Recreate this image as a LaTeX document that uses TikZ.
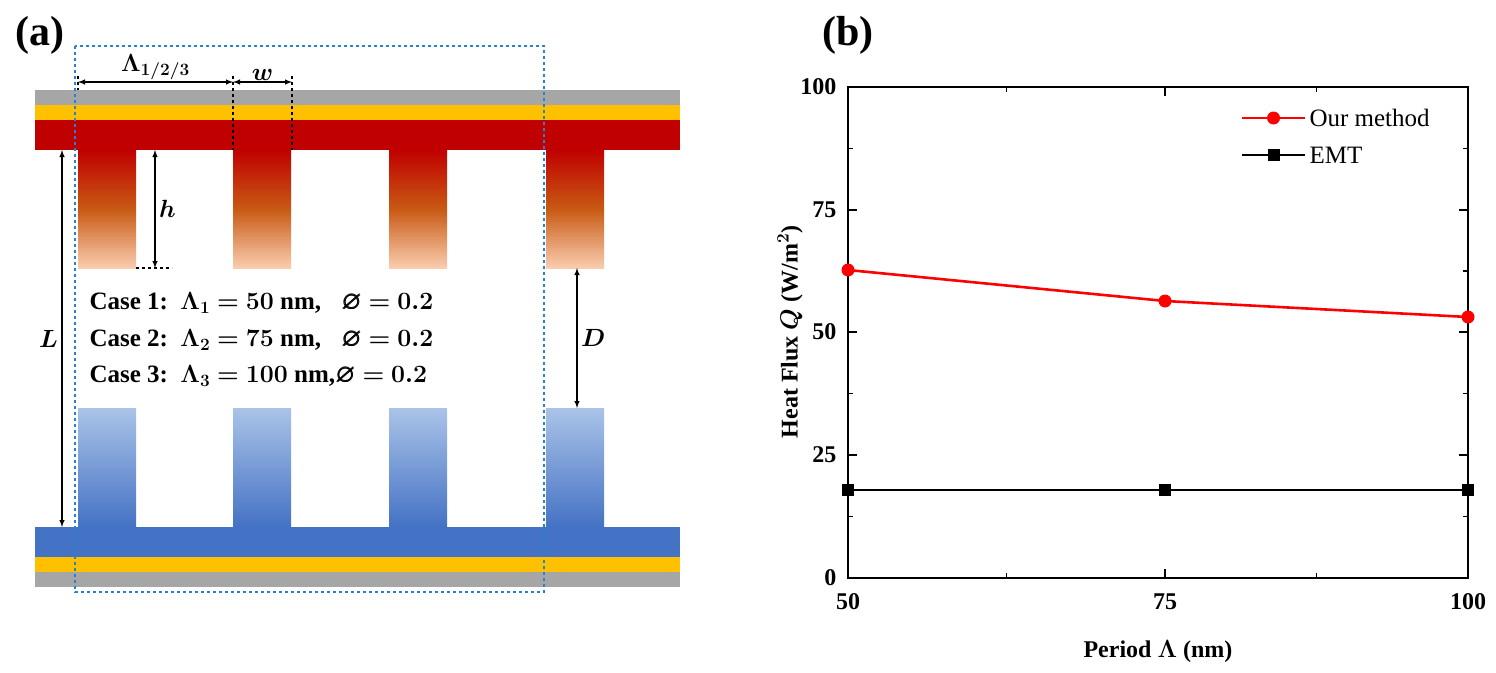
\documentclass[tikz,border=0pt]{standalone}
\usepackage{amsmath,amssymb,bm}
\usepackage{fontspec}
\setmainfont{Liberation Serif}
\begin{document}
\begin{tikzpicture}[x=1pt,y=-1pt,
  dim/.style={<->,>=latex,line width=1.4pt},
  cs/.style={anchor=west,font=\bfseries\fontsize{25}{28}\selectfont},
  tk/.style={font=\bfseries\fontsize{24}{28}\selectfont}]
\useasboundingbox (0,0) rectangle (1496,672);
\definecolor{dred}{RGB}{192,0,0}
\definecolor{lor}{RGB}{250,205,175}
\definecolor{mor}{RGB}{200,90,20}
\definecolor{dblue}{RGB}{68,114,196}
\definecolor{lblue}{RGB}{170,195,232}
\definecolor{gold}{RGB}{255,192,0}
\definecolor{dash}{RGB}{40,130,210}
\fill[gray!70] (35,90) rectangle (680,105);
\fill[gold] (35,105) rectangle (680,120);
\fill[dred] (35,120) rectangle (680,150);
\foreach \x in {78,233,389,546}{
  \shade[top color=dred,bottom color=lor,middle color=mor] (\x,150) rectangle ++(58,118);
  \shade[top color=lblue,bottom color=dblue] (\x,408) rectangle ++(58,119);
}
\fill[dblue] (35,527) rectangle (680,557);
\fill[gold] (35,557) rectangle (680,572);
\fill[gray!70] (35,572) rectangle (680,587);
\draw[dashed,color=dash,line width=1.4pt] (75,46) rectangle (544,592);
\coordinate (a1) at (78,82); \coordinate (a2) at (233,82); \coordinate (a3) at (292,82);
\draw[dim] (a1) -- node[above,tk,inner sep=1pt]{$\bm{\Lambda_{1/2/3}}$} (a2);
\draw[dim] (a2) -- node[above,tk,inner sep=1pt]{$\bm{w}$} (a3);
\draw[dashed,line width=1.4pt] (233,76) -- (233,150) (292,76) -- (292,150) (78,76)--(78,90);
\coordinate (h1) at (155,150); \coordinate (h2) at (155,268);
\draw[dim] (h1) -- node[right,tk]{$\bm{h}$} (h2);
\draw[dashed,line width=1.4pt] (136,268) -- (172,268);
\coordinate (l1) at (62,150); \coordinate (l2) at (62,527);
\draw[dim] (l1) -- node[left,tk,font=\fontsize{28}{30}\selectfont]{$\bm{L}$} (l2);
\coordinate (d1) at (577,268); \coordinate (d2) at (577,408);
\draw[dim] (d1) -- node[right,tk,font=\fontsize{28}{30}\selectfont]{$\bm{D}$} (d2);
\node[cs] (c1) at (86,303) {Case 1: \,$\bm{\Lambda_1=50}$ nm, \;\;$\bm{\varnothing=0.2}$};
\node[cs] (c2) at (86,340) {Case 2: \,$\bm{\Lambda_2=75}$ nm, \;\;$\bm{\varnothing=0.2}$};
\node[cs] (c3) at (86,376) {Case 3: \,$\bm{\Lambda_3=100}$ nm,$\bm{\varnothing=0.2}$};
\node[font=\bfseries\fontsize{42}{44}\selectfont] (pa) at (40,35) {(a)};
\node[font=\bfseries\fontsize{42}{44}\selectfont] (pb) at (848,35) {(b)};
\draw[line width=2.4pt] (848,87) rectangle (1468,578);
\foreach \y/\v in {578/0,455/25,332/50,210/75,87/100}{
  \draw[line width=2pt] (848,\y) -- ++(9,0) (1468,\y) -- ++(-9,0);
  \node[tk,anchor=east] at (840,\y) {\v};}
\foreach \y in {516.5,393.5,271,148.5}{
  \draw[line width=1.6pt] (848,\y) -- ++(5,0) (1468,\y) -- ++(-5,0);}
\foreach \x/\v in {848/50,1165/75,1468/100}{
  \draw[line width=2pt] (\x,578) -- ++(0,-9) (\x,87) -- ++(0,9);
  \node[tk,anchor=north] at (\x,590) {\v};}
\foreach \x in {1006.5,1316.5}{
  \draw[line width=1.6pt] (\x,578) -- ++(0,-5) (\x,87) -- ++(0,5);}
\node[tk] (xl) at (1158,652) {Period $\bm{\Lambda}$ (nm)};
\node[tk,rotate=90] (yl) at (790,332) {Heat Flux $\bm{Q}$ (W/m$^{\bm{2}}$)};
\coordinate (r1) at (848,270); \coordinate (r2) at (1165,301); \coordinate (r3) at (1468,317);
\draw[red,line width=2.6pt] (r1) -- (r2) -- (r3);
\foreach \p in {r1,r2,r3} \fill[red] (\p) circle (6.5);
\coordinate (k1) at (848,490); \coordinate (k2) at (1165,490); \coordinate (k3) at (1468,490);
\draw[line width=2.6pt] (k1) -- (k2) -- (k3);
\foreach \p in {k1,k2,k3} \fill (\p) +(-6,-6) rectangle +(6,6);
\coordinate (lg1) at (1242,118); \coordinate (lg2) at (1305,118);
\draw[red,line width=2.6pt] (lg1) -- (lg2); \fill[red] (1273.5,118) circle (6.5);
\node[anchor=west,font=\fontsize{25}{28}\selectfont] (t1) at (1306,118) {Our method};
\coordinate (lg3) at (1242,155); \coordinate (lg4) at (1305,155);
\draw[line width=2.6pt] (lg3) -- (lg4); \fill (1267.5,149) rectangle (1279.5,161);
\node[anchor=west,font=\fontsize{25}{28}\selectfont] (t2) at (1306,155) {EMT};
\end{tikzpicture}
\end{document}
